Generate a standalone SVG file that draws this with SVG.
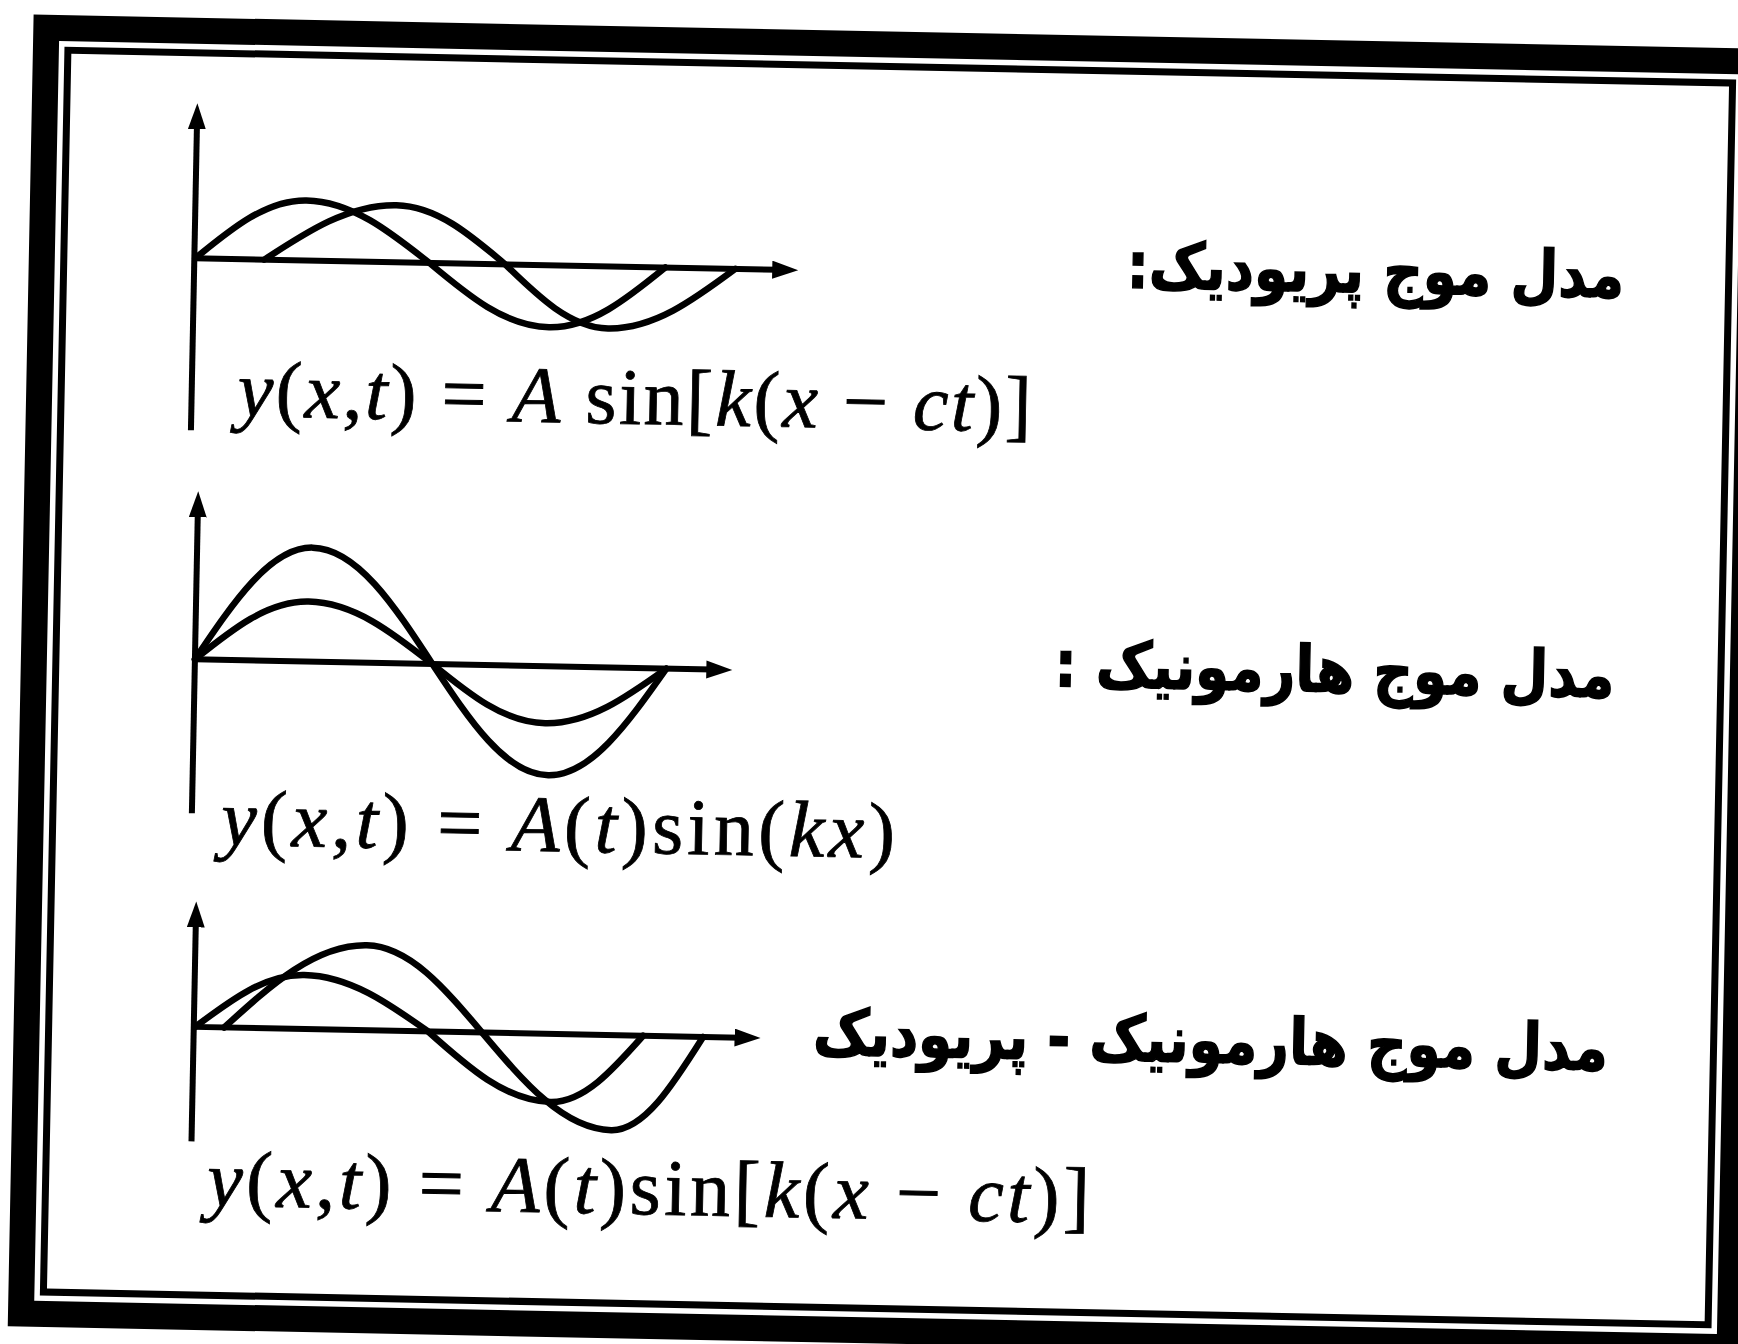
<svg xmlns="http://www.w3.org/2000/svg" width="1738" height="1344" viewBox="0 0 1738 1344">
<style>
.frame{fill:none;stroke:#000}
.axis{fill:none;stroke:#000;stroke-width:6;marker-end:url(#arr)}
.wave{fill:none;stroke:#000;stroke-width:6.5;stroke-linecap:round}
.math{font-family:"Liberation Serif","Times New Roman",serif;font-size:80px;fill:#000;stroke:#000;stroke-width:0.8}
.it{font-style:italic}
.fa{font-family:"DejaVu Sans",sans-serif;font-weight:bold;font-size:64px;fill:#000;stroke:#000;stroke-width:1.5}
</style>
<defs>
<marker id="arr" markerUnits="userSpaceOnUse" markerWidth="30" markerHeight="20" refX="6" refY="9" orient="auto">
<path d="M0,0 L26,9 L0,18 Z" fill="#000"/>
</marker>
</defs>
<rect width="1738" height="1344" fill="#fff"/>
<g transform="rotate(1.13 888 687.5)">
<g id="frame">
<rect class="frame" x="33.5" y="44.5" width="1709" height="1286" stroke-width="26"/>
<rect class="frame" x="55.5" y="66.5" width="1665" height="1242" stroke-width="7"/>
</g>
<g id="connectors">
<line class="axis" x1="186" y1="444" x2="186" y2="137"/>
<line class="axis" x1="186" y1="272" x2="770" y2="272"/>
<line class="axis" x1="194.5" y1="827" x2="194.5" y2="525"/>
<line class="axis" x1="194.5" y1="673" x2="712" y2="673"/>
<line class="axis" x1="200.6" y1="1155" x2="200.6" y2="935"/>
<line class="axis" x1="200.6" y1="1040.5" x2="747.5" y2="1040.5"/>
</g>
<g id="periodic">
<path class="wave" d="M187,272 C222.9,241.3 257.2,212 297,212 C341.9,212 380.6,241.3 421,272 C460.5,303.8 498.2,334 542,334 C583.6,334 619.5,303.8 657,272"/>
<path class="wave" d="M256,272 C298.7,242.8 339.6,215 387,215 C426.8,215 461.1,242.8 497,272 C530.9,303.8 563.4,334 601,334 C646.6,334 685.9,303.8 727,272"/>
<text class="math" x="232" y="429" textLength="794" lengthAdjust="spacing"><tspan class="it">y</tspan>(<tspan class="it">x</tspan>,<tspan class="it">t</tspan>) = <tspan class="it">A</tspan> sin[<tspan class="it">k</tspan>(<tspan class="it">x</tspan> − <tspan class="it">ct</tspan>)]</text>
<text class="fa" transform="translate(1616,283) scale(0.86,1)" x="0" y="0" direction="rtl" text-anchor="start">مدل موج پریودیک:</text>
</g>
<g id="harmonic">
<path class="wave" d="M194.5,673 C232.2,614.6 268.2,559 310,559 C354.2,559 392.2,614.6 432,673 C470.5,728.8 507.3,782 550,782 C592,782 628.2,728.8 666,673"/>
<path class="wave" d="M194.5,673 C231.2,642.3 266.3,613 307,613 C352.2,613 391.2,642.3 432,673 C469.2,702.2 504.7,730 546,730 C589.4,730 626.9,702.2 666,673"/>
<text class="math" x="224" y="858" textLength="674" lengthAdjust="spacing"><tspan class="it">y</tspan>(<tspan class="it">x</tspan>,<tspan class="it">t</tspan>) = <tspan class="it">A</tspan>(<tspan class="it">t</tspan>)sin(<tspan class="it">kx</tspan>)</text>
<text class="fa" transform="translate(1614,683) scale(0.86,1)" x="0" y="0" direction="rtl" text-anchor="start">مدل موج هارمونیک :</text>
</g>
<g id="harmonic-periodic">
<path class="wave" d="M202,1040.5 C237.2,1012.8 270.9,986.5 310,986.5 C355.2,986.5 394.2,1012.8 435,1040.5 C475.4,1075.3 514.1,1108.5 559,1108.5 C591.9,1108.5 620.3,1075.3 650,1040.5"/>
<path class="wave" d="M231,1040.5 C277,997 321,955.5 372,955.5 C414.3,955.5 450.8,997 489,1040.5 C531.7,1089.2 572.6,1135.5 620,1135.5 C652.6,1135.5 680.7,1089.2 710,1040.5"/>
<text class="math" x="217" y="1219" textLength="883" lengthAdjust="spacing"><tspan class="it">y</tspan>(<tspan class="it">x</tspan>,<tspan class="it">t</tspan>) = <tspan class="it">A</tspan>(<tspan class="it">t</tspan>)sin[<tspan class="it">k</tspan>(<tspan class="it">x</tspan> − <tspan class="it">ct</tspan>)]</text>
<text class="fa" transform="translate(1615,1056) scale(0.86,1)" x="0" y="0" direction="rtl" text-anchor="start">مدل موج هارمونیک - پریودیک</text>
</g>
</g>
</svg>
